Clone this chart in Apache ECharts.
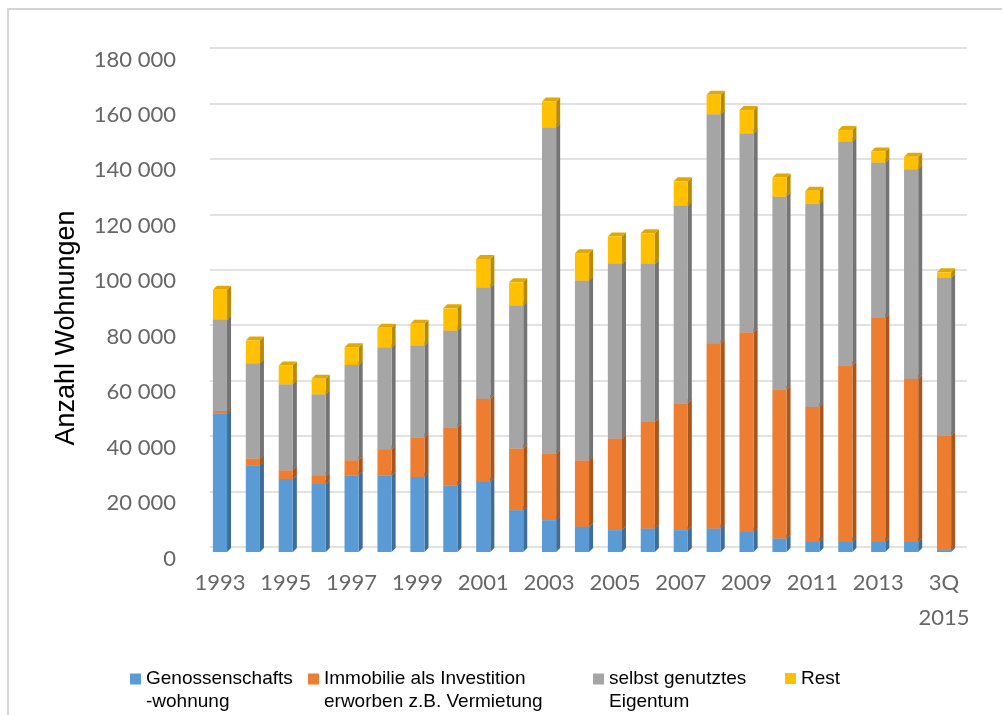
<!DOCTYPE html>
<html>
<head>
<meta charset="utf-8">
<title>Anzahl Wohnungen</title>
<script src="https://cdn.jsdelivr.net/npm/echarts@6/dist/echarts.min.js"></script>
<style>
  html, body { margin: 0; padding: 0; background: #fff; }
  #chart { width: 1002px; height: 715px; }
</style>
</head>
<body>
<div id="chart"></div>
<script>
// Jahre (x-Achse)
var years = ['1993', '1994', '1995', '1996', '1997', '1998', '1999', '2000', '2001', '2002', '2003',
    '2004', '2005', '2006', '2007', '2008', '2009', '2010', '2011', '2012', '2013', '2014', '3Q\n2015'];

// Werte aus dem Bild geschaetzt
var genossenschaft = [50000, 31300, 26300, 24500, 27700, 27700, 27100, 24100, 25300, 15100, 11500,
    9100, 7900, 8500, 7900, 8500, 7300, 4900, 3700, 3700, 3700, 3700, 700];
var investition = [800, 2400, 3200, 3000, 5400, 9400, 14200, 20800, 30000, 22200, 24000,
    24000, 33000, 38400, 45800, 66600, 72000, 53700, 48600, 63600, 80800, 58800, 41100];
var eigentum = [33000, 34400, 31000, 29400, 34400, 36600, 33200, 35000, 40000, 51600, 117600,
    64800, 63000, 57000, 71200, 82800, 71700, 69600, 73200, 80800, 56000, 75600, 57100];
var rest = [10800, 8200, 6800, 5600, 6400, 7200, 7800, 8000, 10400, 8400, 9400,
    9900, 9900, 11100, 8800, 7000, 8400, 6900, 4800, 4100, 4000, 4500, 2000];

var yTicks = [0, 20000, 40000, 60000, 80000, 100000, 120000, 140000, 160000, 180000];

var names = ['Genossenschafts\n-wohnung', 'Immobilie als Investition\nerworben z.B. Vermietung',
    'selbst genutztes\nEigentum', 'Rest'];
var fronts = ['#5B9BD5', '#ED7D31', '#A5A5A5', '#FFC000'];
var sides = ['#3E6D98', '#A8561E', '#747474', '#B88A00'];
var tops = ['#4F88BD', '#D36E2A', '#929292', '#E0A800'];

var DX = -6.5, DY = 5, D = 4;

// gestapelte Daten [index, unten, oben]
var stacks = [genossenschaft, investition, eigentum, rest];
var base = years.map(function () { return 0; });
var seriesData = stacks.map(function (arr) {
    return arr.map(function (v, i) {
        var item = [i, base[i], base[i] + v];
        base[i] += v;
        return item;
    });
});

function makeRender(k) {
    return function (params, api) {
        var p0 = api.coord([api.value(0), api.value(1)]);
        var p1 = api.coord([api.value(0), api.value(2)]);
        var w = api.size([1, 0])[0] * 0.43;
        var x = p0[0] - w / 2 + DX;
        var y0 = p0[1] + DY;
        var y1 = p1[1] + DY;
        return {
            type: 'group',
            children: [
                {
                    type: 'polygon',
                    shape: { points: [[x + w, y1], [x + w + D, y1 - D], [x + w + D, y0 - D], [x + w, y0]] },
                    style: { fill: sides[k] }
                },
                {
                    type: 'polygon',
                    shape: { points: [[x, y1], [x + D, y1 - D], [x + w + D, y1 - D], [x + w, y1]] },
                    style: { fill: tops[k] }
                },
                {
                    type: 'rect',
                    shape: { x: x, y: y1, width: w, height: y0 - y1 },
                    style: { fill: fronts[k] }
                }
            ]
        };
    };
}

var series = seriesData.map(function (d, k) {
    return {
        name: names[k],
        type: 'custom',
        renderItem: makeRender(k),
        itemStyle: { color: fronts[k] },
        encode: { x: 0, y: 2 },
        data: d
    };
});

// Legenden-Icon: Quadrat oben, damit es auf Hoehe der ersten Zeile sitzt
var iconTop = 'path://M0,0H10V10H0Z M0,29.99H10V30H0Z';
var legendBase = {
    top: 662,
    itemGap: 0,
    textStyle: { fontFamily: 'Liberation Sans', fontSize: 19, color: '#000', lineHeight: 23 }
};
function legendAt(name, left, twoLines) {
    var l = Object.assign({}, legendBase, { data: [name], left: left });
    if (twoLines) {
        l.icon = iconTop;
        l.itemWidth = 11;
        l.itemHeight = 33;
    } else {
        l.icon = 'rect';
        l.itemWidth = 11;
        l.itemHeight = 11;
    }
    return l;
}

var chart = echarts.init(document.getElementById('chart'));
chart.setOption({
    animation: false,
    backgroundColor: '#fff',
    grid: { left: 210, right: 35, top: 48, bottom: 168 },
    xAxis: {
        type: 'category',
        data: years,
        axisLine: { show: false },
        axisTick: { show: false },
        axisLabel: {
            interval: 1,
            margin: 18,
            fontFamily: 'Lato',
            fontSize: 22,
            color: '#666',
            lineHeight: 35,
            padding: [0, 13, 0, 0]
        }
    },
    yAxis: {
        type: 'value',
        min: yTicks[0],
        max: yTicks[yTicks.length - 1],
        interval: 20000,
        axisLine: { show: false },
        axisTick: { show: false },
        splitLine: { lineStyle: { color: '#d9d9d9', width: 1.5 } },
        axisLabel: {
            margin: 34,
            fontFamily: 'Lato',
            fontSize: 22,
            color: '#666',
            verticalAlign: 'top',
            lineHeight: 23,
            formatter: function (v) {
                return String(v).replace(/\B(?=(\d{3})+(?!\d))/g, ' ');
            }
        }
    },
    legend: [
        legendAt(names[0], 125, true),
        legendAt(names[1], 303, true),
        legendAt(names[2], 588, true),
        legendAt(names[3], 780, false)
    ],
    graphic: [
        {
            type: 'polyline',
            shape: { points: [[8, 715], [8, 9], [1002, 9]] },
            style: { stroke: '#d4d4d4', lineWidth: 2, fill: null }
        },
        {
            type: 'text',
            x: 67,
            y: 328,
            rotation: Math.PI / 2,
            style: {
                text: 'Anzahl Wohnungen',
                fontFamily: 'Liberation Sans',
                fontSize: 27,
                fill: '#000',
                align: 'center',
                verticalAlign: 'middle'
            }
        }
    ],
    series: series
});
</script>
</body>
</html>
